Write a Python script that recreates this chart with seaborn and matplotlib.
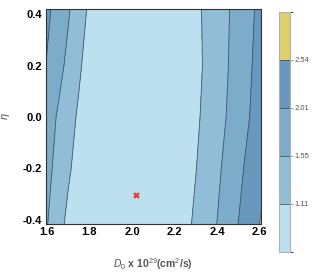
import numpy as np
import matplotlib
matplotlib.use("Agg")
import matplotlib.pyplot as plt
import seaborn as sns
from matplotlib.colors import ListedColormap, BoundaryNorm
from matplotlib.ticker import MultipleLocator

# ---- data ----
d0_values = [1.59, 1.65, 1.70, 1.75, 1.80, 2.02, 2.25, 2.30, 2.35, 2.40, 2.45, 2.50, 2.55, 2.58, 2.61]
eta_values = [0.42, 0.2, 0.0, -0.2, -0.42]
chi_eta_p042 = [2.16, 1.85, 1.60, 1.32, 1.04, 0.95, 0.86, 1.02, 1.19, 1.35, 1.52, 1.71, 1.91, 2.03, 2.15]
chi_eta_p020 = [2.04, 1.71, 1.45, 1.18, 0.92, 0.90, 0.82, 1.00, 1.18, 1.36, 1.54, 1.75, 1.95, 2.08, 2.20]
chi_eta_000 = [1.81, 1.52, 1.28, 1.05, 0.86, 0.85, 0.86, 1.04, 1.22, 1.40, 1.58, 1.79, 2.00, 2.14, 2.27]
chi_eta_m020 = [1.72, 1.43, 1.18, 0.94, 0.80, 0.78, 0.92, 1.10, 1.29, 1.47, 1.68, 1.90, 2.13, 2.28, 2.43]
chi_eta_m042 = [1.63, 1.29, 1.00, 0.80, 0.75, 0.72, 1.00, 1.19, 1.37, 1.56, 1.79, 2.02, 2.28, 2.44, 2.60]
contour_levels = [0.6, 1.11, 1.55, 2.01, 2.54, 3.0]
cbar_ticks = [1.11, 1.55, 2.01, 2.54]
best_fit_d0 = [2.02]
best_fit_eta = [-0.305]

band_colors = ["#bde0f1", "#92bdd7", "#7daccb", "#6898bc", "#e0cf6e"]

sns.set_style("ticks")
plt.rcParams["font.family"] = ["Liberation Sans", "DejaVu Sans"]
plt.rcParams["mathtext.fontset"] = "custom"
plt.rcParams["mathtext.it"] = "Liberation Sans:italic"
plt.rcParams["mathtext.rm"] = "Liberation Sans"

fig = plt.figure(figsize=(3.16, 2.75), dpi=100)
ax = fig.add_axes([0.1446, 0.1855, 0.681, 0.782])

X, Y = np.meshgrid(np.array(d0_values), np.array(eta_values))
Z = np.array([chi_eta_p042, chi_eta_p020, chi_eta_000, chi_eta_m020, chi_eta_m042])

cmap = ListedColormap(band_colors)
norm = BoundaryNorm(contour_levels, cmap.N)
cf = ax.contourf(X, Y, Z, levels=contour_levels, cmap=cmap, norm=norm)
cl = ax.contour(X, Y, Z, levels=cbar_ticks, colors="#2f4a5c", linewidths=0.6, alpha=0.85)

sns.scatterplot(x=best_fit_d0, y=best_fit_eta, marker="X", color="#e8392f", s=22,
                linewidth=0, ax=ax, legend=False, zorder=5)

ax.set_xlim(1.595, 2.605)
ax.set_ylim(-0.416, 0.42)
ax.xaxis.set_major_locator(MultipleLocator(0.2))
ax.xaxis.set_minor_locator(MultipleLocator(0.05))
ax.yaxis.set_major_locator(MultipleLocator(0.2))
ax.yaxis.set_minor_locator(MultipleLocator(0.05))
ax.tick_params(which="both", direction="in", top=True, right=True, colors="#333333",
               labelcolor="black", labelsize=8, width=0.6, pad=2.5)
ax.tick_params(which="major", length=3.5)
ax.tick_params(which="minor", length=2)
ax.xaxis.set_major_formatter(matplotlib.ticker.FormatStrFormatter("%.1f"))
ax.yaxis.set_major_formatter(matplotlib.ticker.FormatStrFormatter("%.1f"))
for lab in ax.get_xticklabels() + ax.get_yticklabels():
    lab.set_fontweight("bold")
for s in ax.spines.values():
    s.set_color("#333333")
    s.set_linewidth(0.8)

ax.set_xlabel(r"$D_0$ x 10$^{29}$(cm$^2$/s)", fontsize=7.5, color="#555555",
              fontweight="bold")
ax.xaxis.set_label_coords(0.5, -0.148)
ax.set_ylabel(r"$\eta$", fontsize=8, color="#555555")
ax.yaxis.set_label_coords(-0.155, 0.5)

cax = fig.add_axes([0.883, 0.0836, 0.0348, 0.874])
cbar = fig.colorbar(cf, cax=cax, ticks=cbar_ticks)
cbar.add_lines(cl)
cbar.ax.yaxis.set_major_formatter(matplotlib.ticker.FormatStrFormatter("%.2f"))
cbar.ax.tick_params(labelsize=5.5, labelcolor="#555555", colors="#888888",
                    length=2, width=0.6, pad=1)
cbar.outline.set_edgecolor("#b0b0b0")
cbar.outline.set_linewidth(0.8)

fig.savefig("out.png", dpi=100)
